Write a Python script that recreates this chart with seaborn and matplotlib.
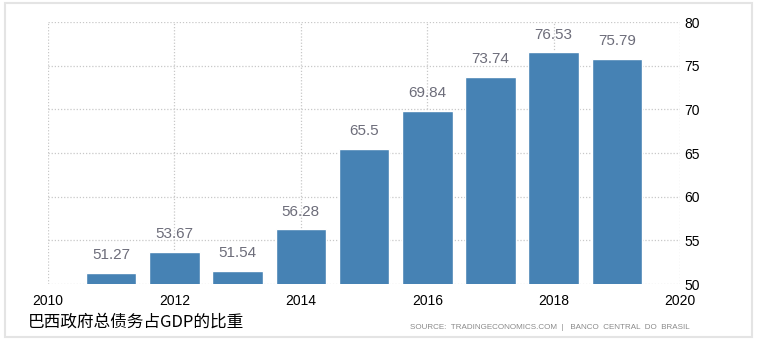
import matplotlib
matplotlib.use("Agg")
import matplotlib.pyplot as plt
import seaborn as sns
import pandas as pd
from matplotlib.patches import Rectangle

years = [2011, 2012, 2013, 2014, 2015, 2016, 2017, 2018, 2019]
debt_pct = [51.27, 53.67, 51.54, 56.28, 65.5, 69.84, 73.74, 76.53, 75.79]
x_ticks = [2010, 2012, 2014, 2016, 2018, 2020]
y_ticks = [50, 55, 60, 65, 70, 75, 80]
title = "巴西政府总债务占GDP的比重"
source = "SOURCE:  TRADINGECONOMICS.COM  |   BANCO  CENTRAL  DO  BRASIL"

sns.set_style("white")
plt.rcParams["font.family"] = ["Liberation Sans Narrow", "Liberation Sans", "DejaVu Sans"]

df = pd.DataFrame({"year": years, "value": debt_pct})

fig = plt.figure(figsize=(7.58, 3.44), dpi=100)
ax = fig.add_axes([0.0633, 0.1744, 0.834, 0.7616])

sns.barplot(data=df, x="year", y="value", native_scale=True, width=0.8,
            color="#4682b4", saturation=1, ax=ax, zorder=2)

ax.set_xlim(2010, 2020)
ax.set_ylim(50, 80)
ax.set_xticks(x_ticks)
ax.set_yticks(y_ticks)
ax.set_xlabel("")
ax.set_ylabel("")
ax.grid(True, color="#c8c8c8", linestyle=(0, (1, 1.5)), linewidth=0.9, zorder=0)
for s in ax.spines.values():
    s.set_visible(False)
ax.yaxis.tick_right()
ax.tick_params(axis="both", length=0, labelsize=10, colors="black")
ax.tick_params(axis="x", pad=7)
ax.tick_params(axis="y", pad=3)

for bar, v in zip(ax.patches, debt_pct):
    ax.text(bar.get_x() + bar.get_width() / 2, v + 1.2, f"{v:g}",
            ha="center", va="bottom", fontsize=11, color="#6d6d7a",
            family=["Liberation Sans", "DejaVu Sans"])

fig.text(0.037, 0.064, title, fontsize=12,
         family=["Noto Sans CJK SC", "DejaVu Sans"], color="black", va="center")
fig.text(0.91, 0.048, source, fontsize=5.8, color="#8a8a8a", ha="right", va="center")

fig.patches.append(Rectangle((0.007, 0.02), 0.985, 0.97, transform=fig.transFigure,
                             fill=False, edgecolor="#e4e4e4", linewidth=1.5))

fig.savefig("out.png", dpi=100)
